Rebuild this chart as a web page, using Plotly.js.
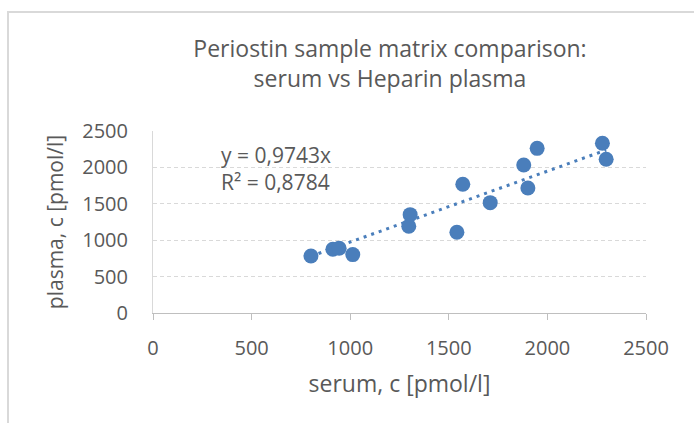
<!DOCTYPE html>
<html>
<head>
<meta charset="utf-8">
<script src="https://cdn.plot.ly/plotly-3.0.1.min.js"></script>
<style>
  html, body { margin: 0; padding: 0; background: #ffffff; }
  #chart { width: 694px; height: 423px; }
</style>
</head>
<body>
<div id="chart"></div>
<script>
// ---- data ----
const serum  = [801, 912, 944, 1013, 1304, 1297, 1541, 1571, 1710, 1880, 1901, 1948, 2279, 2298];
const plasma = [783, 875, 889, 802, 1351, 1191, 1109, 1768, 1516, 2033, 1717, 2262, 2331, 2111];
const trendSlope = 0.9743;
const trendLabel = "y = 0,9743x<br>R² = 0,8784";
const xTicks = [0, 500, 1000, 1500, 2000, 2500];
const yTicks = [0, 500, 1000, 1500, 2000, 2500];
const chartTitle = "Periostin sample matrix comparison:<br>serum vs Heparin plasma";
const xTitle = "serum, c [pmol/l]";
const yTitle = "plasma, c [pmol/l]";

// trendline spans the range of the data
const tx = [Math.min(...serum), Math.max(...serum)];
const ty = tx.map(v => trendSlope * v);

const W = 694, H = 423;
const M = { l: 153, r: 48, t: 131, b: 110 };
const PW = W - M.l - M.r, PH = H - M.t - M.b;
const px2x = px => (px - M.l) / PW;
const px2y = py => (H - M.b - py) / PH;

const FONT = "Open Sans";
const GREY = "#595959";
const BLUE = "#4a7ebb";

const traces = [
  {
    x: tx, y: ty, type: "scatter", mode: "lines",
    line: { color: BLUE, width: 3, dash: "3px,5px" },
    hoverinfo: "skip", showlegend: false
  },
  {
    x: serum, y: plasma, type: "scatter", mode: "markers",
    marker: { color: BLUE, size: 15 },
    showlegend: false
  }
];

const layout = {
  width: W, height: H,
  margin: M,
  paper_bgcolor: "#ffffff",
  plot_bgcolor: "#ffffff",
  font: { family: FONT, color: GREY },
  title: {
    text: chartTitle,
    font: { family: FONT, size: 23, color: GREY },
    x: 390 / W, xref: "container", xanchor: "center",
    y: 1 - 57 / H, yref: "container", yanchor: "middle"
  },
  xaxis: {
    range: [0, 2500], tickvals: xTicks, ticktext: xTicks.map(String),
    showgrid: false, zeroline: false,
    showline: true, linecolor: "#bfbfbf", linewidth: 1,
    ticks: "outside", ticklen: 6, tickcolor: "#bfbfbf",
    tickfont: { family: FONT, size: 20, color: GREY },
    ticklabelstandoff: 11,
    title: { text: xTitle, font: { family: FONT, size: 23, color: GREY }, standoff: 15 },
    fixedrange: true
  },
  yaxis: {
    range: [0, 2500], tickvals: yTicks, ticktext: yTicks.map(String),
    showgrid: true, gridcolor: "#d9d9d9", gridwidth: 1, griddash: "4px,3px",
    zeroline: false,
    showline: true, linecolor: "#d9d9d9", linewidth: 1,
    ticks: "",
    tickfont: { family: FONT, size: 20, color: GREY },
    ticklabelstandoff: 20,
    title: { text: yTitle, font: { family: FONT, size: 21, color: GREY }, standoff: 12 },
    fixedrange: true
  },
  annotations: [
    {
      text: trendLabel, showarrow: false,
      xref: "paper", yref: "paper",
      x: px2x(219), y: px2y(139), xanchor: "left", yanchor: "top",
      align: "left",
      font: { family: FONT, size: 21, color: GREY }
    }
  ],
  shapes: [
    { type: "line", xref: "paper", yref: "paper", x0: px2x(8), x1: px2x(8), y0: px2y(11), y1: px2y(H + 2),
      line: { color: "#d9d9d9", width: 2 } },
    { type: "line", xref: "paper", yref: "paper", x0: px2x(7), x1: px2x(W + 2), y0: px2y(12), y1: px2y(12),
      line: { color: "#d9d9d9", width: 2 } }
  ],
  showlegend: false
};

Plotly.newPlot("chart", traces, layout, { displayModeBar: false, staticPlot: true });
</script>
</body>
</html>
